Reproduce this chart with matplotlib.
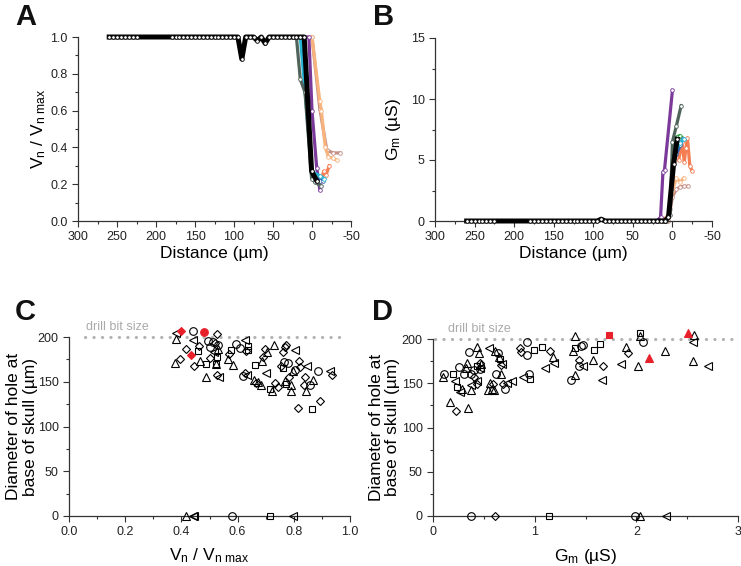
import matplotlib
matplotlib.use("Agg")
import matplotlib.pyplot as plt
from matplotlib.ticker import MultipleLocator

plt.rcParams["font.family"] = ["Liberation Sans", "DejaVu Sans"]
plt.rcParams["mathtext.fontset"] = "custom"
plt.rcParams["mathtext.rm"] = "Liberation Sans"
plt.rcParams["mathtext.it"] = "Liberation Sans"
plt.rcParams["axes.unicode_minus"] = False

# ============================================================
# Data: panels A and B (distance traces)
# ============================================================
approach_d = [260, 255, 250, 245, 240, 235, 230, 225,
              180, 175, 170, 165, 160, 155, 150, 145, 140, 135, 130, 125,
              120, 115, 110, 105, 100, 95, 90, 85, 80, 75, 70, 65, 60, 55,
              50, 45, 40, 35, 30, 25, 20, 15, 10]
approach_vn = [1.0, 1.0, 1.0, 1.0, 1.0, 1.0, 1.0, 1.0,
               1.0, 1.0, 1.0, 1.0, 1.0, 1.0, 1.0, 1.0, 1.0, 1.0, 1.0, 1.0,
               1.0, 1.0, 1.0, 1.0, 1.0, 1.0, 0.88, 1.0, 1.0, 1.0, 0.98, 1.0, 0.965, 1.0,
               1.0, 1.0, 1.0, 1.0, 1.0, 1.0, 1.0, 1.0, 1.0]
approach_gm = [0, 0, 0, 0, 0, 0, 0, 0,
               0, 0, 0, 0, 0, 0, 0, 0, 0, 0, 0, 0,
               0, 0, 0, 0, 0, 0, 0.15, 0, 0, 0, 0, 0, 0, 0,
               0, 0, 0, 0, 0, 0, 0, 0, 0]

# end of approach (contact region), per trace: (distance, Vn/Vnmax)
vn_black_d = [10, 0.5, -6]
vn_black_v = [1.0, 0.27, 0.22]
vn_graygreen_d = [30, 25, 20, 15, 9, 0.5, -4, -12]
vn_graygreen_v = [1.0, 1.0, 1.0, 0.77, 0.70, 0.23, 0.21, 0.19]
vn_cyan_d = [20, 15, 7, 0.5, -10, -16]
vn_cyan_v = [1.0, 1.0, 0.61, 0.27, 0.245, 0.23]
vn_purple_d = [10, 4, 0, -6, -10]
vn_purple_v = [1.0, 1.0, 0.6, 0.29, 0.17]
vn_blue_d = [0, -5, -10, -14]
vn_blue_v = [0.26, 0.24, 0.22, 0.22]
vn_rosy_d = [2, 0, -10, -19, -27, -36]
vn_rosy_v = [1.0, 1.0, 0.61, 0.385, 0.37, 0.37]
vn_peach_d = [2, 0, -10, -12, -17, -21, -27, -32]
vn_peach_v = [1.0, 1.0, 0.65, 0.60, 0.40, 0.35, 0.34, 0.33]
vn_coral_d = [-8, -12, -15, -18, -22]
vn_coral_v = [0.24, 0.22, 0.27, 0.25, 0.30]

gm_black_d = [10, 5, -1.5, -6]
gm_black_v = [0, 0.3, 4.7, 6.7]
gm_purple_d = [20, 15, 12, 10, 0]
gm_purple_v = [0, 0.3, 4.0, 4.2, 10.7]
gm_graygreen_d = [12, 8, 3, 0, -5, -11]
gm_graygreen_v = [0, 0, 0.5, 6.5, 7.8, 9.45]
gm_green_d = [-3, -6, -9, -12]
gm_green_v = [6.2, 6.9, 7.0, 6.8]
gm_blue_d = [0, -5, -10, -13]
gm_blue_v = [4.5, 5.5, 6.2, 6.7]
gm_cyan_d = [-5, -10, -14]
gm_cyan_v = [6.0, 6.4, 6.7]
gm_coral_d = [-8, -12, -15, -17, -19, -22, -25]
gm_coral_v = [5.0, 6.5, 4.8, 6.0, 6.8, 4.5, 4.1]
gm_peach_d = [18, 10, 5, 0, -5, -10, -14]
gm_peach_v = [0, 0.2, 0.5, 2.5, 3.5, 3.2, 3.5]
gm_rosy_d = [5, 0, -5, -10, -15, -20]
gm_rosy_v = [0, 2.0, 2.6, 2.8, 2.85, 2.85]
gm_gray_d = [8, 3, -2]
gm_gray_v = [0, 1.0, 4.8]

# ============================================================
# Data: panel C (Vn/Vnmax vs hole diameter)
# ============================================================
c_circ_x = [0.443, 0.494, 0.503, 0.513, 0.531, 0.594, 0.608, 0.62, 0.765, 0.780, 0.804, 0.857, 0.885]
c_circ_y = [207, 195, 189, 194, 191, 192, 188, 156, 172, 171, 163, 146, 162]
c_sq_x = [0.458, 0.488, 0.525, 0.575, 0.638, 0.638, 0.662, 0.715, 0.774, 0.863, 0.760, 0.523]
c_sq_y = [184, 170, 178, 186, 190, 185, 169, 142, 148, 119, 165, 170]
c_dia_x = [0.394, 0.418, 0.445, 0.462, 0.501, 0.519, 0.525, 0.527, 0.57, 0.626, 0.629, 0.667,
           0.691, 0.697, 0.732, 0.744, 0.756, 0.762, 0.768, 0.774, 0.783, 0.814, 0.818, 0.822,
           0.840, 0.836, 0.893, 0.937]
c_dia_y = [175, 187, 168, 190, 176, 193, 203, 158, 181, 160, 184, 149,
           178, 187, 149, 144, 168, 183, 189, 191, 155, 121, 173, 167,
           155, 146, 128, 157]
c_tri_x = [0.382, 0.378, 0.466, 0.486, 0.531, 0.523, 0.565, 0.584, 0.659, 0.673, 0.682, 0.688,
           0.703, 0.729, 0.721, 0.767, 0.789, 0.791, 0.798, 0.843, 0.869]
c_tri_y = [198, 171, 173, 155, 187, 170, 175, 169, 152, 150, 146, 173,
           183, 191, 140, 151, 146, 140, 162, 140, 152]
c_ltri_x = [0.382, 0.440, 0.515, 0.533, 0.632, 0.626, 0.701, 0.804, 0.846, 0.929]
c_ltri_y = [204, 197, 183, 155, 158, 197, 160, 186, 168, 162]
c_red_dia_x = [0.398, 0.433]
c_red_dia_y = [207, 179.5]
c_red_circ_x = [0.481]
c_red_circ_y = [205.6]
c_zero_tri_x = [0.418]
c_zero_ltri_x = [0.440, 0.445, 0.798]
c_zero_circ_x = [0.581]
c_zero_sq_x = [0.717]

# ============================================================
# Data: panel D (Gm vs hole diameter)
# ============================================================
d_circ_x = [2.07, 1.48, 1.46, 1.36, 0.92, 0.92, 0.94, 0.71, 0.62, 0.64, 0.35, 0.30, 0.26,
            0.37, 0.11, 0.46, 0.40, 1.44]
d_circ_y = [197, 193, 192, 154, 197, 182, 160.5, 144, 160.5, 184, 185, 161, 168,
            161, 161, 166, 165, 170]
d_sq_x = [2.04, 1.64, 1.58, 1.40, 1.07, 0.99, 0.95, 0.66, 0.43, 0.24, 0.20]
d_sq_y = [207, 194, 188, 190, 191, 188, 154.5, 177, 170, 146, 160]
d_dia_x = [1.92, 1.67, 1.44, 1.15, 0.86, 0.87, 0.69, 0.67, 0.59, 0.46, 0.40, 0.43, 0.23]
d_dia_y = [184, 170, 176, 186, 190, 185, 149, 171, 149, 172.5, 157, 149, 119]
d_tri_x = [1.40, 2.04, 2.57, 2.56, 2.28, 2.02, 1.90, 1.57, 1.38, 1.40, 1.18, 0.67, 0.65,
           0.61, 0.60, 0.58, 0.56, 0.54, 0.47, 0.43, 0.45, 0.33, 0.32, 0.29, 0.37, 0.10,
           0.17, 0.34]
d_tri_y = [203, 203, 204, 175.5, 187, 169, 191, 176, 186, 159, 180, 160.5, 180,
           186, 142, 144, 150, 142, 172, 191, 184, 172.5, 167, 144, 142, 157,
           129, 122]
d_ltri_x = [2.56, 2.70, 1.85, 1.66, 1.48, 1.19, 1.10, 0.89, 0.78, 0.73, 0.68, 0.55, 0.46,
            0.43, 0.37, 0.22, 0.27]
d_ltri_y = [197, 170, 172, 154, 169, 173, 167, 157, 152.5, 150, 172, 190, 167,
            152, 148, 152, 140]
d_red_sq_x = [1.73]
d_red_sq_y = [204.5]
d_red_tri_x = [2.51, 2.12]
d_red_tri_y = [207, 179]
d_zero_circ_x = [0.37, 1.99]
d_zero_dia_x = [0.61]
d_zero_sq_x = [1.14]
d_zero_tri_x = [2.04]
d_zero_ltri_x = [2.29]

drill_bit = 200

# ============================================================
# Colours
# ============================================================
c_black = "#000000"
c_purple = "#7b3a99"
c_graygreen = "#4f645a"
c_cyan = "#26b4d4"
c_blue = "#2f62b4"
c_green = "#1f9e36"
c_coral = "#f47d52"
c_peach = "#f8b47e"
c_rosy = "#c48e85"
c_gray = "#9c9c9c"
c_drill = "#b3b3b3"
c_red = "#e8202a"


# ============================================================
# Helpers
# ============================================================
def style_axes(ax):
    for side in ["top", "right"]:
        ax.spines[side].set_visible(False)
    for side in ["left", "bottom"]:
        ax.spines[side].set_linewidth(0.9)
        ax.spines[side].set_color("#333333")
    ax.tick_params(which="major", direction="out", length=4, width=0.8,
                   labelsize=9, colors="#333333", labelcolor="#222222")
    ax.tick_params(which="minor", direction="out", length=2.5, width=0.8, colors="#333333")


def trace(ax, d, v, color, lw=2.3, z=2):
    ax.plot(d, v, color=color, lw=lw, marker="o", ms=2.6, mfc="white",
            mec=color, mew=0.6, zorder=z, clip_on=False, solid_joinstyle="round")


def scatter(ax, x, y, marker, ms, color="black", filled=False):
    ax.plot(x, y, ls="none", marker=marker, ms=ms,
            mfc=color if filled else "none", mec=color, mew=0.8,
            clip_on=False, zorder=3)


def drill_line(ax, x0, x1, text_x):
    ax.plot([x0, x1], [drill_bit, drill_bit], color=c_drill, lw=2.3,
            ls=(0, (0.05, 2.6)), dash_capstyle="round", clip_on=False, zorder=1)
    ax.text(text_x, drill_bit + 4, "drill bit size", color="#aaaaaa", fontsize=9,
            va="bottom", ha="left")


fig = plt.figure(figsize=(7.41, 5.66), dpi=100)
W, H = 741, 566


def add_ax(left, top, right, bottom):
    return fig.add_axes([left / W, 1 - bottom / H, (right - left) / W, (bottom - top) / H])


label_fs = 12.5
vn_label = r"V$_\mathregular{n}$ / V$_\mathregular{n\ max}$"
gm_label = r"G$_\mathregular{m}$ (µS)"
diam_label = "Diameter of hole at\nbase of skull (µm)"

# ---------------- A ----------------
axA = add_ax(78, 37, 351, 221)
style_axes(axA)
trace(axA, vn_rosy_d, vn_rosy_v, c_rosy)
trace(axA, vn_peach_d, vn_peach_v, c_peach)
trace(axA, vn_coral_d, vn_coral_v, c_coral)
trace(axA, vn_purple_d, vn_purple_v, c_purple)
trace(axA, vn_blue_d, vn_blue_v, c_blue)
trace(axA, vn_cyan_d, vn_cyan_v, c_cyan)
trace(axA, vn_graygreen_d, vn_graygreen_v, c_graygreen)
trace(axA, approach_d + vn_black_d, approach_vn + vn_black_v, c_black, lw=3.6, z=4)
axA.set_xlim(300, -50)
axA.set_ylim(0, 1.0)
axA.xaxis.set_major_locator(MultipleLocator(50))
axA.xaxis.set_minor_locator(MultipleLocator(25))
axA.yaxis.set_major_locator(MultipleLocator(0.2))
axA.yaxis.set_minor_locator(MultipleLocator(0.1))
axA.yaxis.set_major_formatter(lambda v, p: f"{v:.1f}")
axA.set_xlabel("Distance (µm)", fontsize=label_fs, labelpad=2)
axA.set_ylabel(vn_label, fontsize=label_fs)
axA.yaxis.set_label_coords(-0.11, 0.5)

# ---------------- B ----------------
axB = add_ax(435, 38, 712, 221)
style_axes(axB)
trace(axB, gm_rosy_d, gm_rosy_v, c_rosy)
trace(axB, gm_peach_d, gm_peach_v, c_peach)
trace(axB, gm_coral_d, gm_coral_v, c_coral)
trace(axB, gm_gray_d, gm_gray_v, c_gray)
trace(axB, gm_green_d, gm_green_v, c_green)
trace(axB, gm_blue_d, gm_blue_v, c_blue)
trace(axB, gm_cyan_d, gm_cyan_v, c_cyan)
trace(axB, gm_graygreen_d, gm_graygreen_v, c_graygreen)
trace(axB, gm_purple_d, gm_purple_v, c_purple)
trace(axB, approach_d + gm_black_d, approach_gm + gm_black_v, c_black, lw=3.6, z=4)
axB.set_xlim(300, -50)
axB.set_ylim(0, 15)
axB.xaxis.set_major_locator(MultipleLocator(50))
axB.xaxis.set_minor_locator(MultipleLocator(25))
axB.yaxis.set_major_locator(MultipleLocator(5))
axB.yaxis.set_minor_locator(MultipleLocator(2.5))
axB.set_xlabel("Distance (µm)", fontsize=label_fs, labelpad=2)
axB.set_ylabel(gm_label, fontsize=label_fs)
axB.yaxis.set_label_coords(-0.115, 0.5)

# ---------------- C ----------------
axC = add_ax(69, 337, 350, 516)
style_axes(axC)
drill_line(axC, 0.057, 0.976, 0.062)
scatter(axC, c_circ_x, c_circ_y, "o", 5.5)
scatter(axC, c_sq_x, c_sq_y, "s", 5)
scatter(axC, c_dia_x, c_dia_y, "D", 4.2)
scatter(axC, c_tri_x, c_tri_y, "^", 5.5)
scatter(axC, c_ltri_x, c_ltri_y, "<", 5.5)
scatter(axC, c_red_dia_x, c_red_dia_y, "D", 4.2, c_red, True)
scatter(axC, c_red_circ_x, c_red_circ_y, "o", 5.5, c_red, True)
scatter(axC, c_zero_tri_x, [0] * len(c_zero_tri_x), "^", 5.5)
scatter(axC, c_zero_ltri_x, [0] * len(c_zero_ltri_x), "<", 5.5)
scatter(axC, c_zero_circ_x, [0] * len(c_zero_circ_x), "o", 5.5)
scatter(axC, c_zero_sq_x, [0] * len(c_zero_sq_x), "s", 5)
axC.set_xlim(0, 1.0)
axC.set_ylim(0, 200)
axC.xaxis.set_major_locator(MultipleLocator(0.2))
axC.xaxis.set_minor_locator(MultipleLocator(0.1))
axC.xaxis.set_major_formatter(lambda v, p: f"{v:.1f}")
axC.yaxis.set_major_locator(MultipleLocator(50))
axC.yaxis.set_minor_locator(MultipleLocator(25))
axC.set_xlabel(vn_label, fontsize=label_fs, labelpad=6)
axC.set_ylabel(diam_label, fontsize=label_fs, linespacing=1.15)
axC.yaxis.set_label_coords(-0.112, 0.5)

# ---------------- D ----------------
axD = add_ax(433, 339, 738, 516)
style_axes(axD)
drill_line(axD, 0.02, 2.95, 0.15)
scatter(axD, d_circ_x, d_circ_y, "o", 5.5)
scatter(axD, d_sq_x, d_sq_y, "s", 5)
scatter(axD, d_dia_x, d_dia_y, "D", 4.2)
scatter(axD, d_tri_x, d_tri_y, "^", 5.5)
scatter(axD, d_ltri_x, d_ltri_y, "<", 5.5)
scatter(axD, d_red_sq_x, d_red_sq_y, "s", 5, c_red, True)
scatter(axD, d_red_tri_x, d_red_tri_y, "^", 5.5, c_red, True)
scatter(axD, d_zero_circ_x, [0] * len(d_zero_circ_x), "o", 5.5)
scatter(axD, d_zero_dia_x, [0] * len(d_zero_dia_x), "D", 4.2)
scatter(axD, d_zero_sq_x, [0] * len(d_zero_sq_x), "s", 5)
scatter(axD, d_zero_tri_x, [0] * len(d_zero_tri_x), "^", 5.5)
scatter(axD, d_zero_ltri_x, [0] * len(d_zero_ltri_x), "<", 5.5)
axD.set_xlim(0, 3)
axD.set_ylim(0, 200)
axD.xaxis.set_major_locator(MultipleLocator(1))
axD.xaxis.set_minor_locator(MultipleLocator(0.5))
axD.yaxis.set_major_locator(MultipleLocator(50))
axD.yaxis.set_minor_locator(MultipleLocator(25))
axD.set_xlabel(gm_label, fontsize=label_fs, labelpad=6)
axD.set_ylabel(diam_label, fontsize=label_fs, linespacing=1.15)
axD.yaxis.set_label_coords(-0.107, 0.5)

# ---------------- panel letters ----------------
for letter, x, y in [("A", 15, 3), ("B", 373, 3), ("C", 15, 298), ("D", 372, 298)]:
    fig.text(x / W, 1 - y / H, letter, fontsize=21, fontweight="bold",
             va="top", ha="left", color="#111111")

fig.savefig("out.png", dpi=100)
